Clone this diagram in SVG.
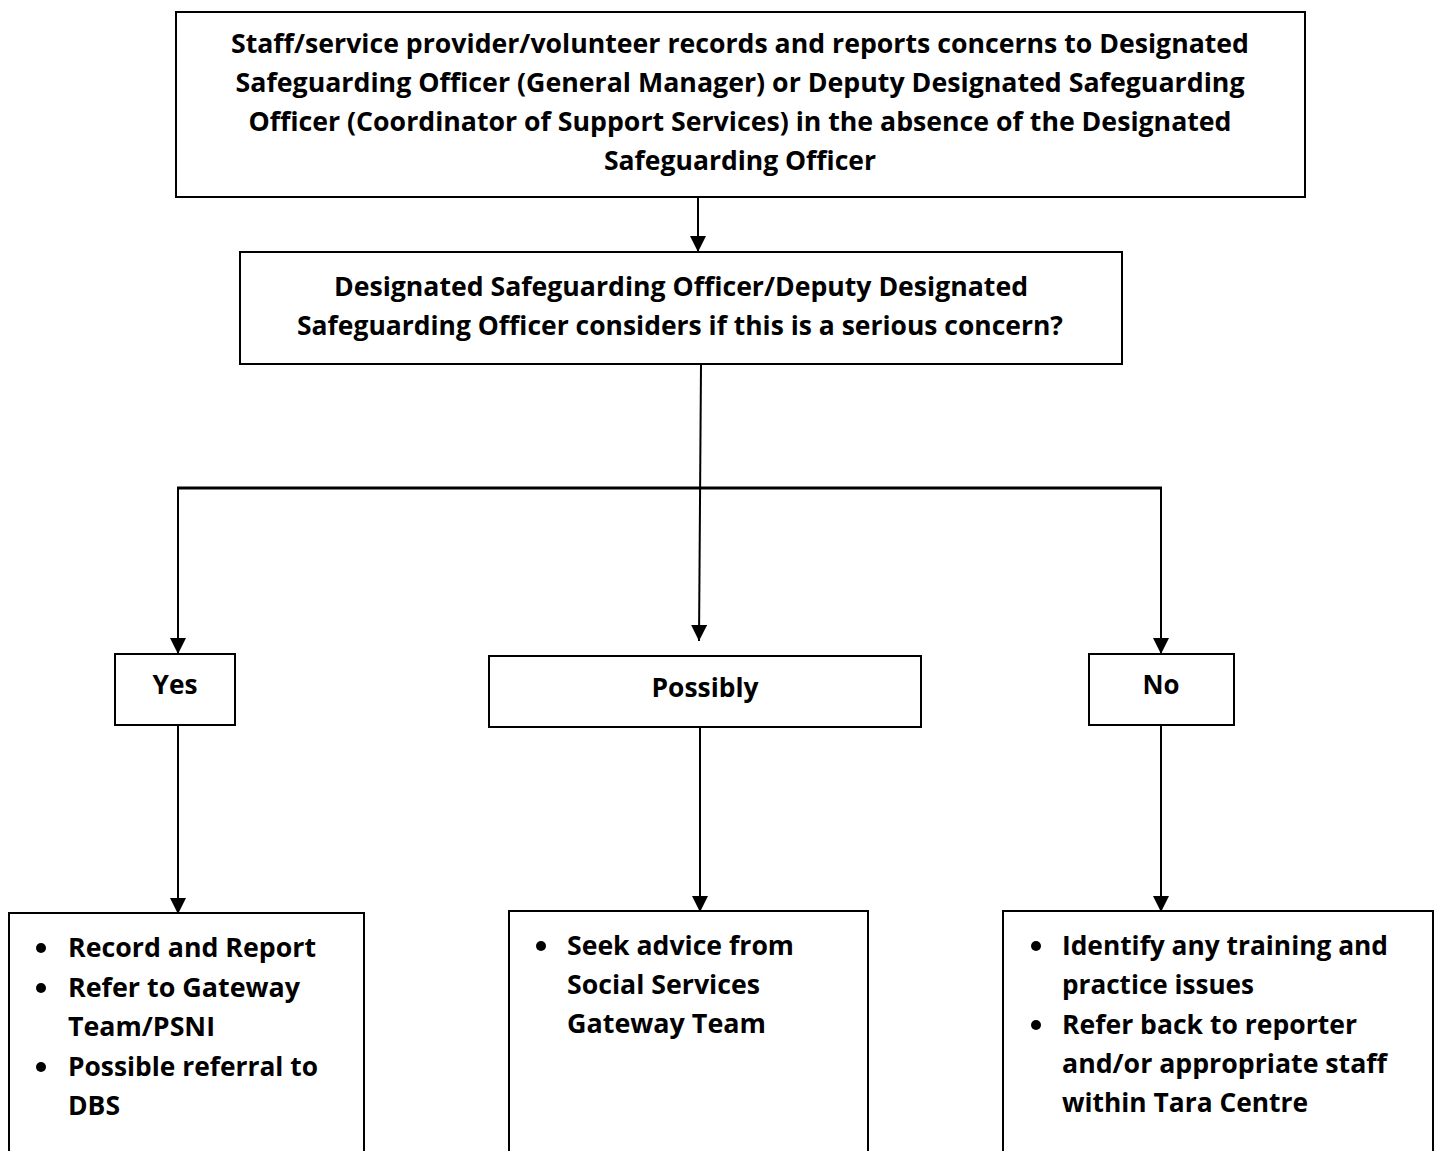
<svg xmlns="http://www.w3.org/2000/svg" width="1440" height="1151" viewBox="0 0 1440 1151">
<style>
.box{fill:#fff;stroke:#000;stroke-width:2}
.t{font-family:"Open Sans","Liberation Sans",Arial,sans-serif;font-weight:bold;font-size:27px;fill:#000}
.c{text-anchor:middle}
.ln{stroke:#000;stroke-width:2;fill:none}
</style>
<defs>
<marker id="ah" viewBox="0 0 16 16" refX="16" refY="8" markerWidth="16" markerHeight="16" markerUnits="userSpaceOnUse" orient="auto">
<path d="M0,0 L16,8 L0,16 Z" fill="#000"/>
</marker>
</defs>
<rect width="1440" height="1151" fill="#fff"/>
<g id="connectors">
<line class="ln" x1="698" y1="197" x2="698" y2="252" marker-end="url(#ah)"/>
<line class="ln" x1="701" y1="365" x2="699" y2="641" marker-end="url(#ah)"/>
<line x1="177" y1="488" x2="1162" y2="488" stroke="#000" stroke-width="3"/>
<line class="ln" x1="178" y1="487" x2="178" y2="654" marker-end="url(#ah)"/>
<line class="ln" x1="1161" y1="487" x2="1161" y2="654" marker-end="url(#ah)"/>
<line class="ln" x1="178" y1="725" x2="178" y2="914" marker-end="url(#ah)"/>
<line class="ln" x1="700" y1="727" x2="700" y2="912" marker-end="url(#ah)"/>
<line class="ln" x1="1161" y1="725" x2="1161" y2="912" marker-end="url(#ah)"/>
</g>
<g id="node-top">
<rect class="box" x="176" y="12" width="1129" height="185"/>
<text class="t c" x="740" y="53" textLength="1018" lengthAdjust="spacingAndGlyphs">Staff/service provider/volunteer records and reports concerns to Designated</text>
<text class="t c" x="740" y="92" textLength="1009" lengthAdjust="spacingAndGlyphs">Safeguarding Officer (General Manager) or Deputy Designated Safeguarding</text>
<text class="t c" x="740" y="131" textLength="983" lengthAdjust="spacingAndGlyphs">Officer (Coordinator of Support Services) in the absence of the Designated</text>
<text class="t c" x="740" y="170" textLength="272" lengthAdjust="spacingAndGlyphs">Safeguarding Officer</text>
</g>
<g id="node-consider">
<rect class="box" x="240" y="252" width="882" height="112"/>
<text class="t c" x="681" y="296" textLength="694" lengthAdjust="spacingAndGlyphs">Designated Safeguarding Officer/Deputy Designated</text>
<text class="t c" x="680" y="335" textLength="766" lengthAdjust="spacingAndGlyphs">Safeguarding Officer considers if this is a serious concern?</text>
</g>
<g id="node-yes">
<rect class="box" x="115" y="654" width="120" height="71"/>
<text class="t c" x="175" y="694" textLength="45" lengthAdjust="spacingAndGlyphs">Yes</text>
</g>
<g id="node-possibly">
<rect class="box" x="489" y="656" width="432" height="71"/>
<text class="t c" x="705" y="697" textLength="107" lengthAdjust="spacingAndGlyphs">Possibly</text>
</g>
<g id="node-no">
<rect class="box" x="1089" y="654" width="145" height="71"/>
<text class="t c" x="1161" y="694" textLength="37" lengthAdjust="spacingAndGlyphs">No</text>
</g>
<g id="node-yes-actions">
<path class="ln" d="M9,1152 V913 H364 V1152"/>
<circle cx="41" cy="948" r="5"/>
<circle cx="41" cy="988" r="5"/>
<circle cx="41" cy="1067" r="5"/>
<text class="t" x="68" y="957" textLength="248" lengthAdjust="spacingAndGlyphs">Record and Report</text>
<text class="t" x="68" y="997" textLength="232" lengthAdjust="spacingAndGlyphs">Refer to Gateway</text>
<text class="t" x="68" y="1036" textLength="147" lengthAdjust="spacingAndGlyphs">Team/PSNI</text>
<text class="t" x="68" y="1076" textLength="250" lengthAdjust="spacingAndGlyphs">Possible referral to</text>
<text class="t" x="68" y="1115" textLength="52" lengthAdjust="spacingAndGlyphs">DBS</text>
</g>
<g id="node-possibly-actions">
<path class="ln" d="M509,1152 V911 H868 V1152"/>
<circle cx="541" cy="946" r="5"/>
<text class="t" x="567" y="955" textLength="227" lengthAdjust="spacingAndGlyphs">Seek advice from</text>
<text class="t" x="567" y="994" textLength="193" lengthAdjust="spacingAndGlyphs">Social Services</text>
<text class="t" x="567" y="1033" textLength="199" lengthAdjust="spacingAndGlyphs">Gateway Team</text>
</g>
<g id="node-no-actions">
<path class="ln" d="M1003,1152 V911 H1433 V1152"/>
<circle cx="1036" cy="946" r="5"/>
<circle cx="1036" cy="1025" r="5"/>
<text class="t" x="1062" y="955" textLength="326" lengthAdjust="spacingAndGlyphs">Identify any training and</text>
<text class="t" x="1062" y="994" textLength="192" lengthAdjust="spacingAndGlyphs">practice issues</text>
<text class="t" x="1062" y="1034" textLength="295" lengthAdjust="spacingAndGlyphs">Refer back to reporter</text>
<text class="t" x="1062" y="1073" textLength="325" lengthAdjust="spacingAndGlyphs">and/or appropriate staff</text>
<text class="t" x="1062" y="1112" textLength="246" lengthAdjust="spacingAndGlyphs">within Tara Centre</text>
</g>
</svg>
